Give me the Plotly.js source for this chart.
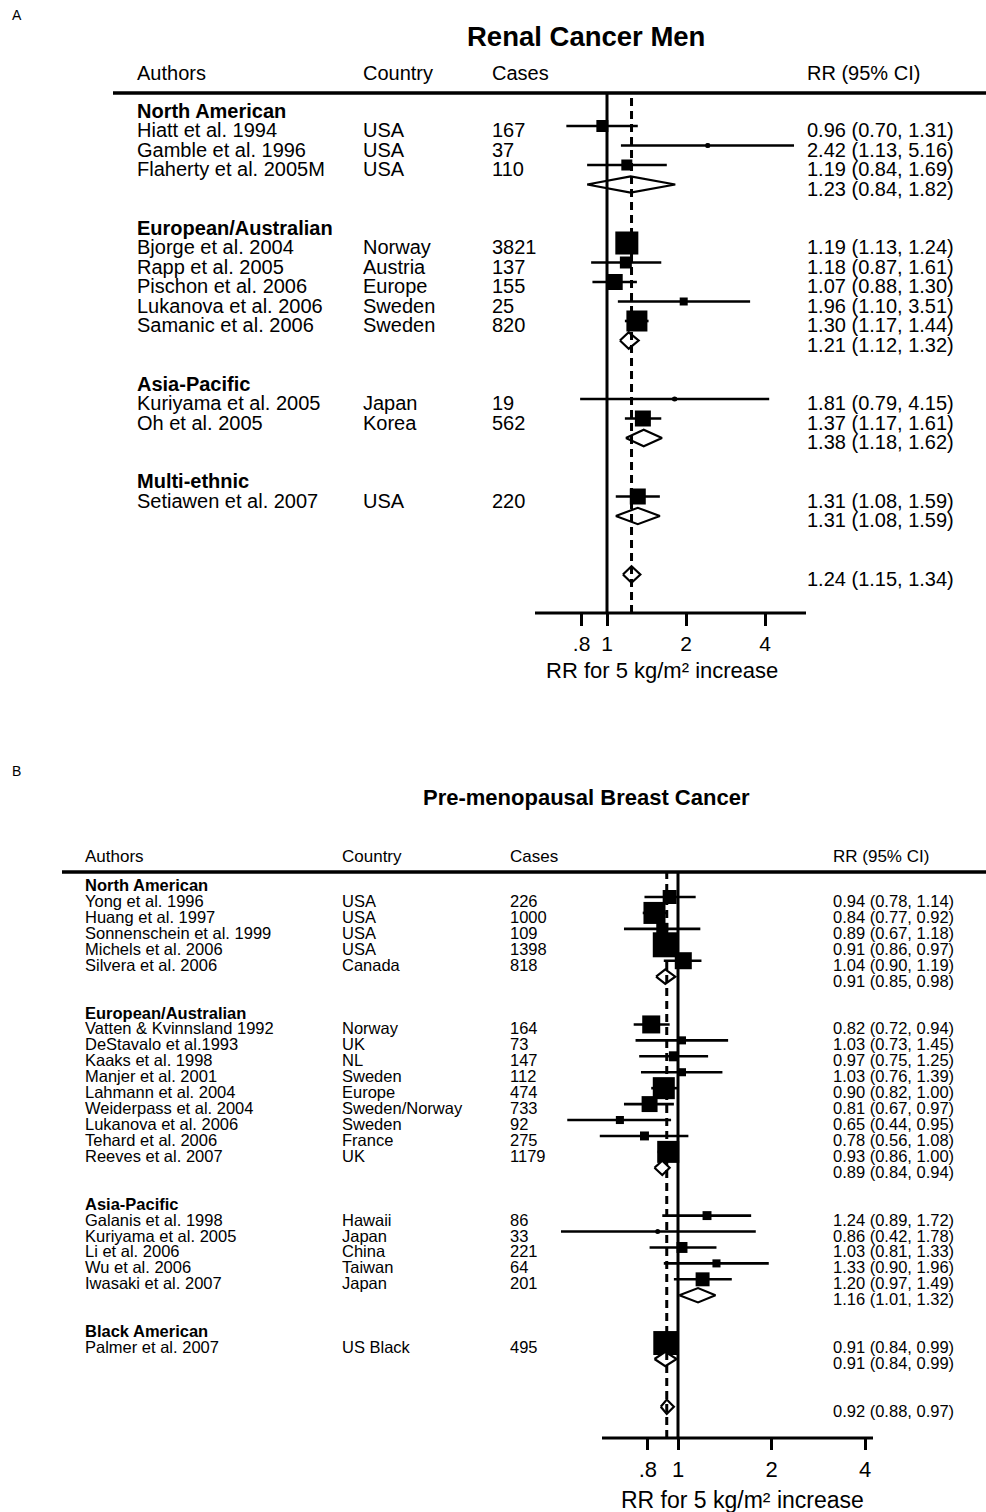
<!DOCTYPE html>
<html><head><meta charset="utf-8">
<script src="https://cdn.plot.ly/plotly-3.0.1.min.js"></script>
<style>body{margin:0;background:#fff}#chart{width:986px;height:1512px}</style>
</head><body><div id="chart"></div>
<script>
// ---------------- Panel A: Renal Cancer Men ----------------
const titleA = 'Renal Cancer Men';
const groupsA = ['North American', 'European/Australian', 'Asia-Pacific', 'Multi-ethnic'];
const authorsA = ['Hiatt et al. 1994', 'Gamble et al. 1996', 'Flaherty et al. 2005M',
  'Bjorge et al. 2004', 'Rapp et al. 2005', 'Pischon et al. 2006', 'Lukanova et al. 2006', 'Samanic et al. 2006',
  'Kuriyama et al. 2005', 'Oh et al. 2005',
  'Setiawen et al. 2007'];
const countryA = ['USA', 'USA', 'USA', 'Norway', 'Austria', 'Europe', 'Sweden', 'Sweden', 'Japan', 'Korea', 'USA'];
const casesA = ['167', '37', '110', '3821', '137', '155', '25', '820', '19', '562', '220'];
const groupOfA = [0, 0, 0, 1, 1, 1, 1, 1, 2, 2, 3];
const rrA = [0.96, 2.42, 1.19, 1.19, 1.18, 1.07, 1.96, 1.30, 1.81, 1.37, 1.31];
const loA = [0.70, 1.13, 0.84, 1.13, 0.87, 0.88, 1.10, 1.17, 0.79, 1.17, 1.08];
const hiA = [1.31, 5.16, 1.69, 1.24, 1.61, 1.30, 3.51, 1.44, 4.15, 1.61, 1.59];
const weightA = [6.5, 0.7, 5.5, 24, 6.5, 11.6, 2.9, 20, 0.7, 11.6, 11.6];
const subRrA = [1.23, 1.21, 1.38, 1.31];
const subLoA = [0.84, 1.12, 1.18, 1.08];
const subHiA = [1.82, 1.32, 1.62, 1.59];
const overallA = [1.24, 1.15, 1.34];

// ---------------- Panel B: Pre-menopausal Breast Cancer ----------------
const titleB = 'Pre-menopausal Breast Cancer';
const groupsB = ['North American', 'European/Australian', 'Asia-Pacific', 'Black American'];
const authorsB = ['Yong et al. 1996', 'Huang et al. 1997', 'Sonnenschein et al. 1999', 'Michels et al. 2006', 'Silvera et al. 2006',
  'Vatten & Kvinnsland 1992', 'DeStavalo et al.1993', 'Kaaks et al. 1998', 'Manjer et al. 2001', 'Lahmann et al. 2004',
  'Weiderpass et al. 2004', 'Lukanova et al. 2006', 'Tehard et al. 2006', 'Reeves et al. 2007',
  'Galanis et al. 1998', 'Kuriyama et al. 2005', 'Li et al. 2006', 'Wu et al. 2006', 'Iwasaki et al. 2007',
  'Palmer et al. 2007'];
const countryB = ['USA', 'USA', 'USA', 'USA', 'Canada',
  'Norway', 'UK', 'NL', 'Sweden', 'Europe', 'Sweden/Norway', 'Sweden', 'France', 'UK',
  'Hawaii', 'Japan', 'China', 'Taiwan', 'Japan',
  'US Black'];
const casesB = ['226', '1000', '109', '1398', '818',
  '164', '73', '147', '112', '474', '733', '92', '275', '1179',
  '86', '33', '221', '64', '201',
  '495'];
const groupOfB = [0, 0, 0, 0, 0, 1, 1, 1, 1, 1, 1, 1, 1, 1, 2, 2, 2, 2, 2, 3];
const rrB = [0.94, 0.84, 0.89, 0.91, 1.04, 0.82, 1.03, 0.97, 1.03, 0.90, 0.81, 0.65, 0.78, 0.93, 1.24, 0.86, 1.03, 1.33, 1.20, 0.91];
const loB = [0.78, 0.77, 0.67, 0.86, 0.90, 0.72, 0.73, 0.75, 0.76, 0.82, 0.67, 0.44, 0.56, 0.86, 0.89, 0.42, 0.81, 0.90, 0.97, 0.84];
const hiB = [1.14, 0.92, 1.18, 0.97, 1.19, 0.94, 1.45, 1.25, 1.39, 1.00, 0.97, 0.95, 1.08, 1.00, 1.72, 1.78, 1.33, 1.96, 1.49, 0.99];
const weightB = [7.8, 19.4, 5.8, 25, 11.6, 13, 2.6, 4, 2.6, 19.4, 10.2, 2.6, 3.2, 19.4, 3.2, 0.4, 4.8, 2.6, 7.8, 23];
const subRrB = [0.91, 0.89, 1.16, 0.91];
const subLoB = [0.85, 0.84, 1.01, 0.84];
const subHiB = [0.98, 0.94, 1.32, 0.99];
const overallB = [0.92, 0.88, 0.97];

const ticksVals = [0.8, 1, 2, 4];
const ticksText = ['.8', '1', '2', '4'];
const xAxisTitle = 'RR for 5 kg/m² increase';
const headers = ['Authors', 'Country', 'Cases', 'RR (95% CI)'];

// ---------------- layout geometry (pixels) ----------------
const W = 986, H = 1512;
const FONT = 'Liberation Sans, Arial, Helvetica, sans-serif';
const geoA = {xa: 'x', ya: 'y', x1: 607, ppd: 79, row1: 126, step: 19.5, top: 93, axis: 613,
  axFrom: 535, axTo: 806, lineFrom: 113, colX: [135, 361, 490, 805], headY: 73, fs: 20, hfs: 20, rrFs: 20,
  textShift: -4, diamH: 0.42, sizeK: 4.7, tickLen: 12, tickFs: 21, tickStand: 0,
  axTitleX: 662, axTitleY: 670, axTitleFs: 22,
  title: titleA, titleX: 586, titleY: 36, titleFs: 27.5, label: 'A', labelY: 15};
const geoB = {xa: 'x2', ya: 'y2', x1: 678, ppd: 93.5, row1: 897, step: 15.93, top: 872, axis: 1438,
  axFrom: 602, axTo: 873, lineFrom: 62, colX: [83, 340, 508, 831], headY: 856, fs: 16.5, hfs: 17, rrFs: 16.5,
  textShift: -4, diamH: 0.45, sizeK: 5, tickLen: 11, tickFs: 22, tickStand: 1,
  axTitleX: 742, axTitleY: 1500, axTitleFs: 23,
  title: titleB, titleX: 586, titleY: 797, titleFs: 22, label: 'B', labelY: 771};

const fmt = (r, l, h) => r.toFixed(2) + ' (' + l.toFixed(2) + ', ' + h.toFixed(2) + ')';

const traces = [], annotations = [], shapes = [], layout = {};

function buildPanel(g, groups, authors, country, cases, groupOf, rr, lo, hi, weight, subRr, subLo, subHi, overall) {
  // assign rows
  const studyRow = [], headRow = [], subRow = [];
  let r = 0;
  groups.forEach((name, gi) => {
    headRow.push(r);
    const idx = groupOf.map((v, i) => v === gi ? i : -1).filter(i => i >= 0);
    idx.forEach((i, k) => { studyRow[i] = r + 1 + k; });
    subRow.push(r + idx.length + 1);
    r = r + idx.length + 3;
  });
  const overallRow = r + 1;

  // axes
  const L2 = Math.log10(2);
  const xr = [(-g.x1 / g.ppd) * L2, ((W - g.x1) / g.ppd) * L2];
  const rowAt = px => 1 + (px - g.row1) / g.step;
  const axName = g.xa === 'x' ? 'xaxis' : 'xaxis2';
  const ayName = g.ya === 'y' ? 'yaxis' : 'yaxis2';
  layout[axName] = {type: 'log', range: xr, domain: [0, 1], anchor: g.ya, fixedrange: true,
    showgrid: false, zeroline: false, showline: false,
    tickmode: 'array', tickvals: ticksVals, ticktext: ticksText,
    ticks: 'outside', ticklen: g.tickLen, tickwidth: 3, tickcolor: '#000',
    ticklabelstandoff: g.tickStand,
    tickfont: {family: FONT, size: g.tickFs, color: '#000'}};
  layout[ayName] = {range: [rowAt(g.axis), rowAt(g.top)], domain: [1 - g.axis / H, 1 - g.top / H],
    anchor: g.xa, visible: false, fixedrange: true};
  const ydom = g.ya + ' domain';
  const px2x = px => Math.pow(2, (px - g.x1) / g.ppd);

  // CI lines
  const cx = [], cy = [];
  rr.forEach((v, i) => { cx.push(lo[i], hi[i], null); cy.push(studyRow[i], studyRow[i], null); });
  traces.push({type: 'scatter', mode: 'lines', x: cx, y: cy, xaxis: g.xa, yaxis: g.ya,
    line: {color: '#000', width: 2.6}, hoverinfo: 'skip'});
  // weight boxes
  traces.push({type: 'scatter', mode: 'markers', x: rr, y: studyRow, xaxis: g.xa, yaxis: g.ya,
    marker: {symbol: 'square', color: '#000', opacity: 1, size: weight.map(w => g.sizeK * Math.sqrt(w)), line: {width: 0}},
    cliponaxis: false, hoverinfo: 'skip'});
  // point estimates
  traces.push({type: 'scatter', mode: 'markers', x: rr, y: studyRow, xaxis: g.xa, yaxis: g.ya,
    marker: {symbol: 'circle', color: '#000', opacity: 1, size: 5, line: {width: 0}}, hoverinfo: 'skip'});
  // diamonds
  const diam = (e, l, h, row) => {
    traces.push({type: 'scatter', mode: 'lines', fill: 'toself', fillcolor: '#fff',
      x: [l, e, h, e, l], y: [row, row - g.diamH, row, row + g.diamH, row],
      xaxis: g.xa, yaxis: g.ya, line: {color: '#000', width: 2.2}, hoverinfo: 'skip'});
  };
  subRr.forEach((e, i) => diam(e, subLo[i], subHi[i], subRow[i]));
  diam(overall[0], overall[1], overall[2], overallRow);

  // reference lines
  shapes.push({type: 'line', xref: 'paper', yref: 'paper', x0: g.lineFrom / W, x1: 1,
    y0: 1 - g.top / H, y1: 1 - g.top / H, line: {color: '#000', width: 3.5}});
  shapes.push({type: 'line', xref: g.xa, yref: ydom, x0: 1, x1: 1, y0: 0, y1: 1,
    line: {color: '#000', width: 3}});
  shapes.push({type: 'line', xref: g.xa, yref: ydom, x0: overall[0], x1: overall[0], y0: 0, y1: 1,
    line: {color: '#000', width: 3, dash: '8px,5px'}});
  shapes.push({type: 'line', xref: g.xa, yref: ydom, x0: px2x(g.axFrom), x1: px2x(g.axTo), y0: 0, y1: 0,
    line: {color: '#000', width: 3}});

  // text
  const txt = (text, x, row, size) => annotations.push({
    text, x: x / W, xref: 'paper', y: row, yref: g.ya, xanchor: 'left', yanchor: 'middle',
    yshift: g.textShift, showarrow: false, font: {family: FONT, size: size || g.fs, color: '#000'}});
  headers.forEach((h, k) => annotations.push({text: h, x: g.colX[k] / W, xref: 'paper', y: 1 - g.headY / H, yref: 'paper',
    xanchor: 'left', yanchor: 'middle', showarrow: false,
    font: {family: FONT, size: k === 3 ? Math.max(g.hfs, g.rrFs) : g.hfs, color: '#000'}}));
  groups.forEach((name, gi) => {
    txt('<b>' + name + '</b>', g.colX[0], headRow[gi]);
    txt(fmt(subRr[gi], subLo[gi], subHi[gi]), g.colX[3], subRow[gi], g.rrFs);
  });
  authors.forEach((a, i) => {
    txt(a, g.colX[0], studyRow[i]);
    txt(country[i], g.colX[1], studyRow[i]);
    txt(cases[i], g.colX[2], studyRow[i]);
    txt(fmt(rr[i], lo[i], hi[i]), g.colX[3], studyRow[i], g.rrFs);
  });
  txt(fmt(overall[0], overall[1], overall[2]), g.colX[3], overallRow, g.rrFs);

  // titles
  annotations.push({text: '<b>' + g.title + '</b>', x: g.titleX / W, xref: 'paper', y: 1 - g.titleY / H, yref: 'paper',
    xanchor: 'center', yanchor: 'middle', showarrow: false, font: {family: FONT, size: g.titleFs, color: '#000'}});
  annotations.push({text: g.label, x: 10 / W, xref: 'paper', y: 1 - g.labelY / H, yref: 'paper',
    xanchor: 'left', yanchor: 'middle', showarrow: false, font: {family: FONT, size: 14, color: '#000'}});
  annotations.push({text: xAxisTitle, x: g.axTitleX / W, xref: 'paper', y: 1 - g.axTitleY / H, yref: 'paper',
    xanchor: 'center', yanchor: 'middle', showarrow: false, font: {family: FONT, size: g.axTitleFs, color: '#000'}});
}

buildPanel(geoA, groupsA, authorsA, countryA, casesA, groupOfA, rrA, loA, hiA, weightA, subRrA, subLoA, subHiA, overallA);
buildPanel(geoB, groupsB, authorsB, countryB, casesB, groupOfB, rrB, loB, hiB, weightB, subRrB, subLoB, subHiB, overallB);

Object.assign(layout, {width: W, height: H, margin: {l: 0, r: 0, t: 0, b: 0},
  paper_bgcolor: '#fff', plot_bgcolor: 'rgba(0,0,0,0)', showlegend: false, hovermode: false,
  font: {family: FONT, color: '#000'}, annotations, shapes});

Plotly.newPlot('chart', traces, layout, {staticPlot: true, displayModeBar: false});
</script></body></html>
